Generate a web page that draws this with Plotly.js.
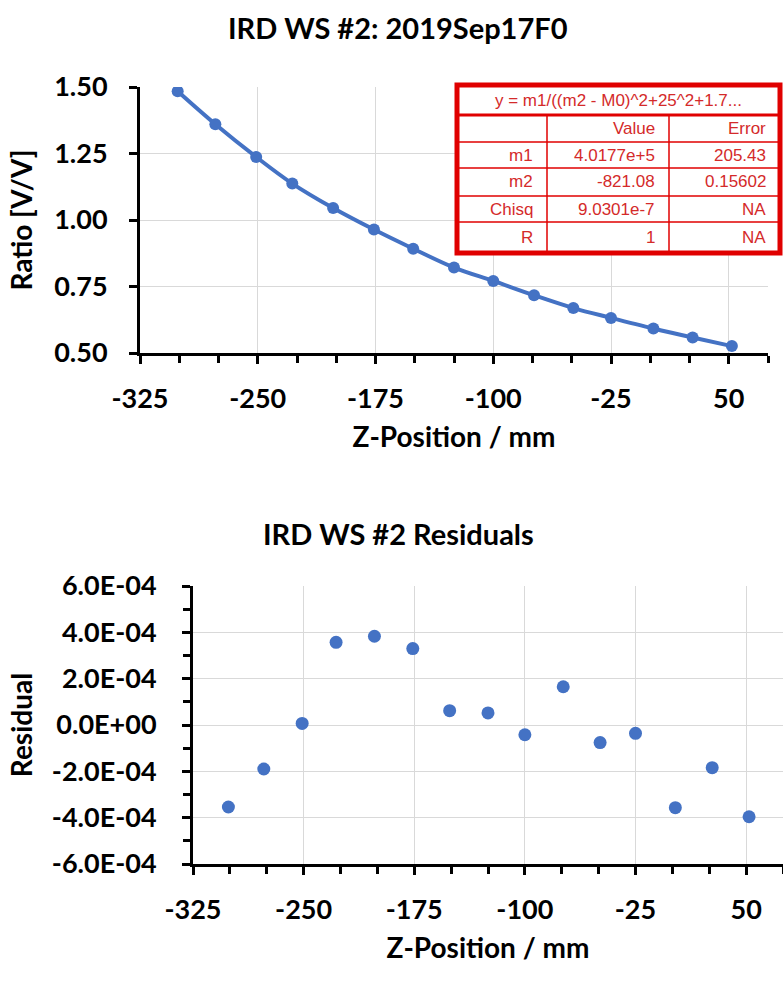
<!DOCTYPE html>
<html>
<head>
<meta charset="utf-8">
<script src="https://cdn.plot.ly/plotly-3.0.1.min.js"></script>
<style>html,body{margin:0;padding:0;background:#fff;}#chart{width:783px;height:982px;}</style>
</head>
<body>
<div id="chart"></div>
<script>
// ---- data ----
const zPosition = [-301, -277, -251, -228, -202, -176, -151, -125, -100, -74, -49, -25, 2, 27, 52];
const ratio = [1.484, 1.360, 1.237, 1.137, 1.045, 0.964, 0.892, 0.821, 0.771, 0.717, 0.669, 0.632, 0.592, 0.558, 0.526];
const residual = [-3.54e-4, -1.90e-4, 0.07e-4, 3.57e-4, 3.83e-4, 3.30e-4, 0.62e-4, 0.52e-4, -0.42e-4, 1.65e-4, -0.76e-4, -0.36e-4, -3.57e-4, -1.84e-4, -3.96e-4];
const zTicks = [-325, -250, -175, -100, -25, 50];
const zTickText = ['-325', '-250', '-175', '-100', '-25', '50'];
const zMinorTicks = [-300, -275, -225, -200, -150, -125, -75, -50, 0, 25, 75];
const ratioTicks = [0.5, 0.75, 1.0, 1.25, 1.5];
const ratioTickText = ['0.50', '0.75', '1.00', '1.25', '1.50'];
const residualTicks = [-6e-4, -4e-4, -2e-4, 0, 2e-4, 4e-4, 6e-4];
const residualTickText = ['-6.0E-04', '-4.0E-04', '-2.0E-04', '0.0E+00', '2.0E-04', '4.0E-04', '6.0E-04'];
const residualMinorTicks = [-5e-4, -3e-4, -1e-4, 1e-4, 3e-4, 5e-4];
const fitFormula = 'y = m1/((m2 - M0)^2+25^2+1.7...';
const fitHeader = ['', 'Value', 'Error'];
const fitNames = ['m1', 'm2', 'Chisq', 'R'];
const fitValues = ['4.0177e+5', '-821.08', '9.0301e-7', '1'];
const fitErrors = ['205.43', '0.15602', 'NA', 'NA'];

// ---- layout helpers ----
const W = 783, H = 982;
const px = x => x / W;
const py = y => 1 - y / H;
const blue = '#4472C4';
const red = '#e00000';
const redText = '#d42a2a';
const boldFont = (size) => ({family: 'Lato, "Open Sans", sans-serif', size: size, color: '#000', weight: 700});

const traces = [
  {x: zPosition, y: ratio, type: 'scatter', mode: 'lines+markers', xaxis: 'x', yaxis: 'y',
   line: {color: blue, width: 4, shape: 'spline', smoothing: 1}, marker: {color: blue, size: 12}, hoverinfo: 'x+y'},
  {x: zPosition, y: residual, type: 'scatter', mode: 'markers', xaxis: 'x2', yaxis: 'y2',
   marker: {color: blue, size: 13}, hoverinfo: 'x+y'}
];

const xCommon = {
  range: [-325, 75], tickmode: 'array', tickvals: zTicks, ticktext: zTickText,
  showgrid: true, gridcolor: '#d9d9d9', gridwidth: 1,
  zeroline: false, showline: true, linecolor: '#000', linewidth: 3,
  ticks: 'outside', ticklen: 8, tickwidth: 3, tickcolor: '#000',
  minor: {tickmode: 'array', tickvals: zMinorTicks, ticks: 'outside', ticklen: 7, tickwidth: 3, tickcolor: '#000', showgrid: false},
  tickfont: boldFont(27), ticklabelstandoff: 12, fixedrange: true
};

const shapes = [];
const annotations = [];

// table geometry (pixels)
const tL = 457, tR = 780, tT = 85, tB = 253;
const rowY = [85, 115, 142, 168, 196, 222, 253];
const colX = [457, 547, 669, 780];
shapes.push({type: 'rect', xref: 'paper', yref: 'paper', x0: px(tL), x1: px(tR), y0: py(tB), y1: py(tT),
  line: {color: red, width: 5}, fillcolor: '#fff', layer: 'above'});
for (let i = 1; i < rowY.length - 1; i++) {
  shapes.push({type: 'line', xref: 'paper', yref: 'paper', x0: px(tL), x1: px(tR), y0: py(rowY[i]), y1: py(rowY[i]),
    line: {color: red, width: i === 1 ? 3 : 1.5}, layer: 'above'});
}
for (let j = 1; j < colX.length - 1; j++) {
  shapes.push({type: 'line', xref: 'paper', yref: 'paper', x0: px(colX[j]), x1: px(colX[j]), y0: py(tB), y1: py(rowY[1]),
    line: {color: red, width: 1.5}, layer: 'above'});
}
const tFont = {family: 'Liberation Sans, Arial, sans-serif', size: 17, color: redText};
annotations.push({text: fitFormula, xref: 'paper', yref: 'paper', x: px((tL + tR) / 2), y: py((rowY[0] + rowY[1]) / 2),
  xanchor: 'center', yanchor: 'middle', showarrow: false, font: tFont});
const rows = [fitHeader].concat(fitNames.map((n, i) => [n, fitValues[i], fitErrors[i]]));
rows.forEach((r, i) => {
  const yc = (rowY[i + 1] + rowY[i + 2]) / 2;
  r.forEach((cell, j) => {
    if (!cell) return;
    annotations.push({text: cell, xref: 'paper', yref: 'paper', x: px(colX[j + 1] - 12), y: py(yc),
      xanchor: 'right', yanchor: 'middle', showarrow: false, font: tFont});
  });
});

// chart titles
annotations.push({text: 'IRD WS #2: 2019Sep17F0', xref: 'paper', yref: 'paper', x: px(398), y: py(27),
  xanchor: 'center', yanchor: 'middle', showarrow: false, font: boldFont(29)});
annotations.push({text: 'IRD WS #2 Residuals', xref: 'paper', yref: 'paper', x: px(398), y: py(533),
  xanchor: 'center', yanchor: 'middle', showarrow: false, font: boldFont(29)});

const layout = {
  width: W, height: H, margin: {l: 0, r: 0, t: 0, b: 0}, paper_bgcolor: '#fff', plot_bgcolor: '#fff',
  showlegend: false,
  xaxis: Object.assign({}, xCommon, {domain: [px(140), px(768)], anchor: 'y',
    title: {text: 'Z-Position / mm', font: boldFont(28), standoff: 14}}),
  yaxis: {domain: [py(353), py(87)], anchor: 'x', range: [0.5, 1.5], tickmode: 'array', tickvals: ratioTicks, ticktext: ratioTickText,
    showgrid: true, gridcolor: '#d9d9d9', zeroline: false, showline: true, linecolor: '#000', linewidth: 3,
    ticks: 'outside', ticklen: 8, tickwidth: 3, tickcolor: '#000', tickfont: boldFont(27), ticklabelstandoff: 16,
    title: {text: 'Ratio [V/V]', font: boldFont(28), standoff: 14}, fixedrange: true},
  xaxis2: Object.assign({}, xCommon, {domain: [px(193), 1], anchor: 'y2',
    title: {text: 'Z-Position / mm', font: boldFont(28), standoff: 14}}),
  yaxis2: {domain: [py(864), py(586)], anchor: 'x2', range: [-6e-4, 6e-4], tickmode: 'array', tickvals: residualTicks, ticktext: residualTickText,
    showgrid: true, gridcolor: '#d9d9d9', zeroline: false, showline: true, linecolor: '#000', linewidth: 3,
    ticks: 'outside', ticklen: 8, tickwidth: 3, tickcolor: '#000', tickfont: boldFont(27), ticklabelstandoff: 20,
    minor: {tickmode: 'array', tickvals: residualMinorTicks, ticks: 'outside', ticklen: 7, tickwidth: 3, tickcolor: '#000', showgrid: false},
    title: {text: 'Residual', font: boldFont(28), standoff: 12}, fixedrange: true},
  shapes: shapes,
  annotations: annotations
};

Plotly.newPlot('chart', traces, layout, {displayModeBar: false, staticPlot: true});
</script>
</body>
</html>
